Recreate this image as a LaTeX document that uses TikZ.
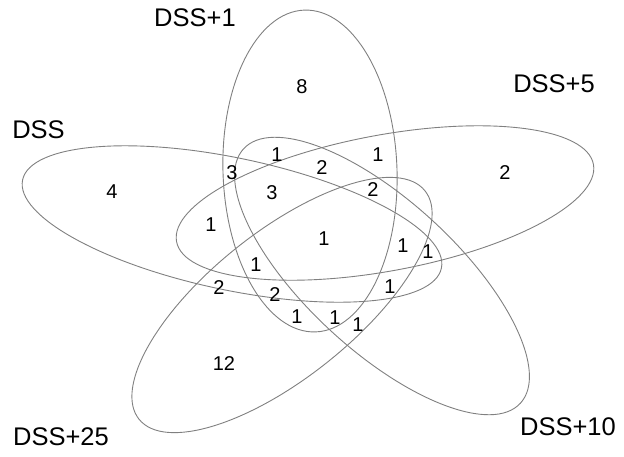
\documentclass[tikz,border=0pt]{standalone}
\usepackage{fontspec}
\setmainfont{Liberation Sans}
\begin{document}
\begin{tikzpicture}[x=1pt,y=-1pt,
  set/.style={draw=black!50, line width=0.9pt},
  setlabel/.style={font=\fontsize{25.5}{28}\selectfont, inner sep=0pt},
  count/.style={font=\fontsize{20}{22}\selectfont, inner sep=0pt}]
\useasboundingbox (0,0) rectangle (624,456);
% ellipses
\draw[set, rotate around={2:(310,171)}] (310,171) ellipse [x radius=87, y radius=161];
\draw[set, rotate around={10.5:(385,203)}] (385,203) ellipse [x radius=212, y radius=68];
\draw[set, rotate around={-11.9:(232,224)}] (232,224) ellipse [x radius=214, y radius=66];
\draw[set, rotate around={-42.6:(382,276)}] (382,276) ellipse [x radius=188, y radius=75];
\draw[set, rotate around={38.6:(282,305)}] (282,305) ellipse [x radius=183, y radius=73];
% set labels
\node[setlabel] (lA) at (195,17.5) {DSS+1};
\node[setlabel] (lB) at (554,84) {DSS+5};
\node[setlabel] (lC) at (38.5,129.5) {DSS};
\node[setlabel] (lD) at (61,437) {DSS+25};
\node[setlabel] (lE) at (568,427) {DSS+10};
% counts
\node[count] (n1) at (302,87) {8};
\node[count] (n2) at (505,173) {2};
\node[count] (n3) at (112,192) {4};
\node[count] (n4) at (277,155) {1};
\node[count] (n5) at (322,168) {2};
\node[count] (n6) at (378,155) {1};
\node[count] (n7) at (232,173) {3};
\node[count] (n8) at (272,193) {3};
\node[count] (n9) at (373,190) {2};
\node[count] (n10) at (211,225) {1};
\node[count] (n11) at (324,239) {1};
\node[count] (n12) at (403,246) {1};
\node[count] (n13) at (428,252) {1};
\node[count] (n14) at (256,265) {1};
\node[count] (n15) at (219,288) {2};
\node[count] (n16) at (275,295) {2};
\node[count] (n17) at (390,287) {1};
\node[count] (n18) at (297,317) {1};
\node[count] (n19) at (335,318) {1};
\node[count] (n20) at (358,325) {1};
\node[count] (n21) at (224,364) {12};
\end{tikzpicture}
\end{document}
